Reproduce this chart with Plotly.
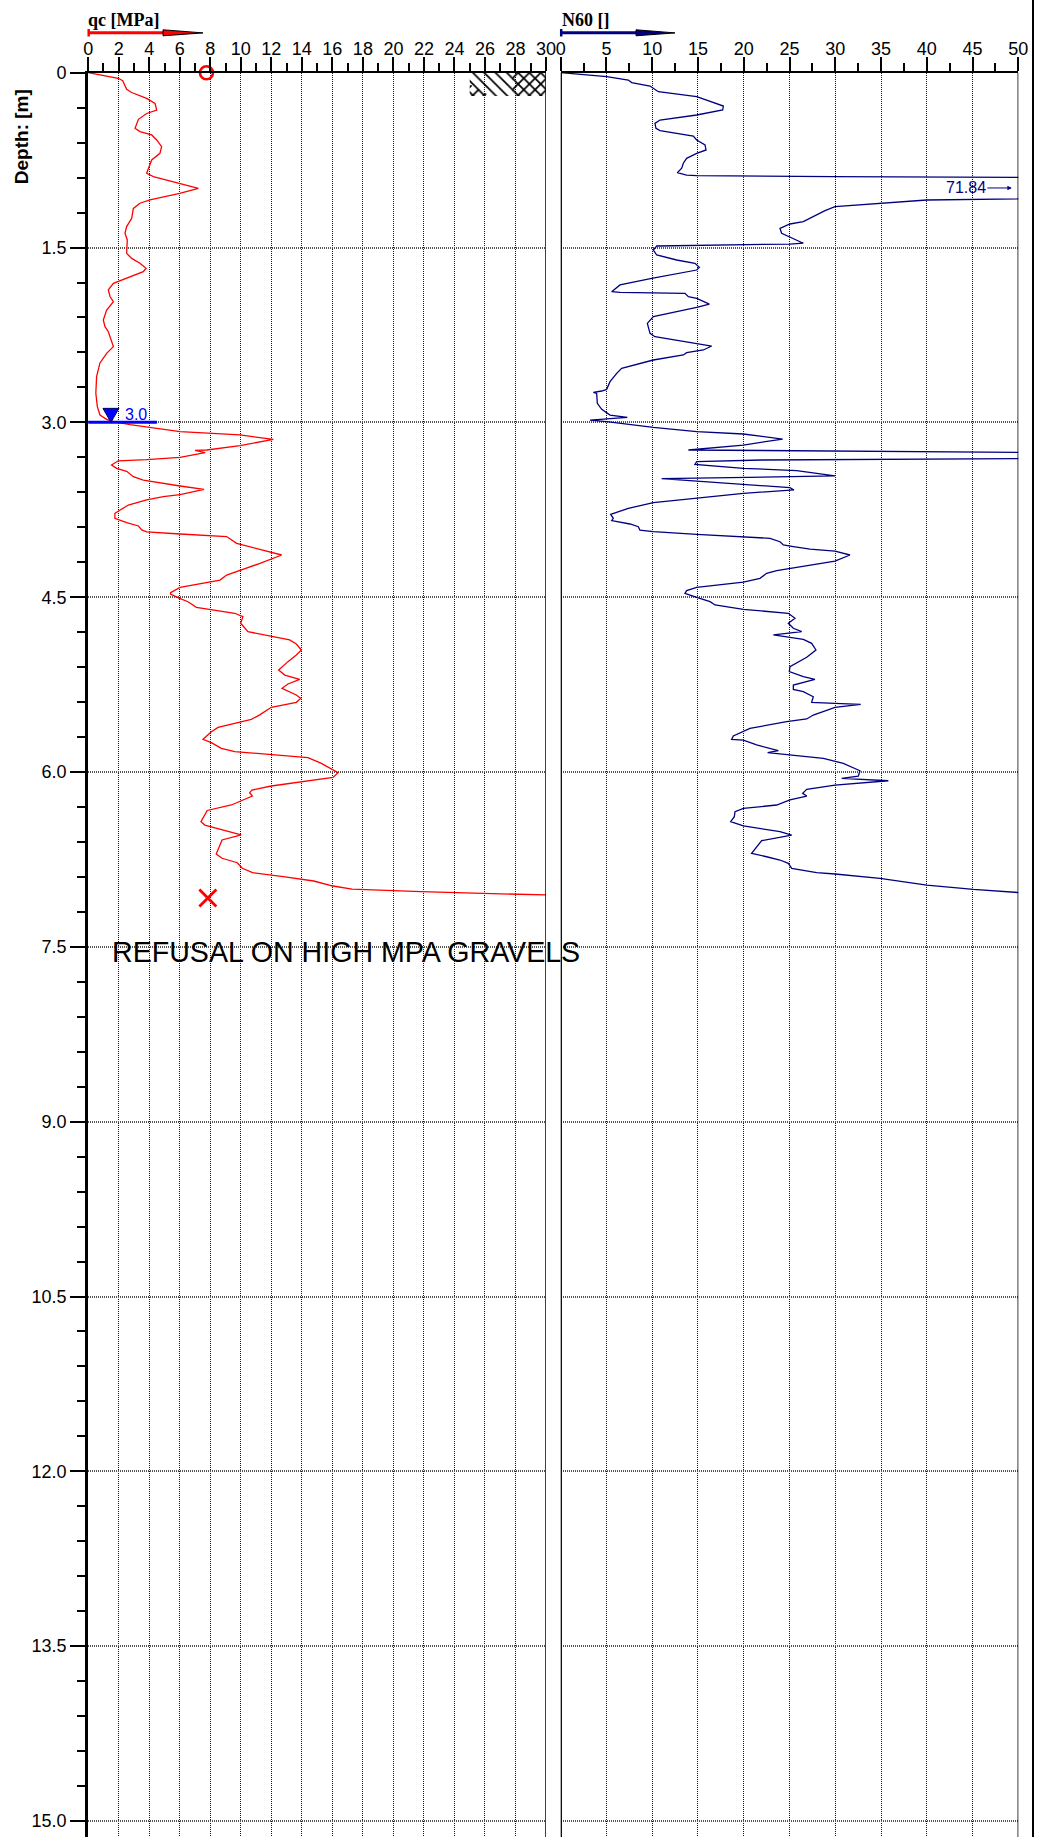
import plotly.graph_objects as go

W, H = 1045, 1837

# ---------------- data ----------------
qc_depth = [0.0, 0.048, 0.068, 0.143, 0.17, 0.22, 0.263, 0.32, 0.35, 0.40, 0.477, 0.505, 0.534, 0.577,
            0.635, 0.692, 0.749, 0.792, 0.863, 0.892, 0.95, 0.992, 1.035, 1.092, 1.12, 1.164, 1.25,
            1.32, 1.378, 1.435, 1.55, 1.593, 1.635, 1.678, 1.707, 1.764, 1.807, 1.864, 1.92, 1.965,
            2.036, 2.122, 2.179, 2.222, 2.35, 2.408, 2.49, 2.608, 2.75, 2.865, 2.937, 2.974, 2.994,
            3.02, 3.08, 3.108, 3.146, 3.2, 3.237, 3.24, 3.26, 3.3, 3.32, 3.33, 3.366, 3.395, 3.42,
            3.466, 3.495, 3.546, 3.575, 3.62, 3.637, 3.665, 3.709, 3.78, 3.823, 3.86, 3.889, 3.923,
            3.94, 3.958, 3.98, 4.038, 4.067, 4.138, 4.21, 4.267, 4.31, 4.353, 4.416, 4.461, 4.473,
            4.51, 4.539, 4.587, 4.605, 4.638, 4.667, 4.724, 4.796, 4.833, 4.867, 4.902, 4.953, 4.996,
            5.053, 5.125, 5.168, 5.205, 5.245, 5.282, 5.305, 5.339, 5.368, 5.402, 5.445, 5.51, 5.548,
            5.568, 5.617, 5.654, 5.696, 5.719, 5.748, 5.797, 5.825, 5.848, 5.877, 5.926, 5.983, 6.006,
            6.046, 6.083, 6.12, 6.155, 6.177, 6.206, 6.246, 6.283, 6.33, 6.426, 6.455, 6.54, 6.583,
            6.703, 6.74, 6.778, 6.826, 6.864, 6.898, 6.935, 6.978, 7.004, 7.027, 7.055, 7.07]
qc_value = [0.0, 1.97, 2.26, 2.52, 2.85, 3.83, 4.38, 4.49, 3.83, 3.29, 3.07, 3.39, 4.16, 4.49,
            4.81, 4.70, 4.16, 4.05, 3.83, 4.27, 6.0, 7.22, 6.0, 4.05, 3.39, 2.96, 2.85,
            2.52, 2.41, 2.56, 2.52, 2.85, 3.39, 3.79, 3.61, 2.52, 1.65, 1.32, 1.43, 1.65,
            1.21, 0.99, 1.10, 1.32, 1.65, 1.21, 0.77, 0.55, 0.50, 0.60, 0.77, 1.21, 1.65,
            2.74, 6.02, 9.95, 12.13, 9.95, 7.77, 7.0, 7.66, 6.02, 3.83, 1.97, 1.53, 1.86, 2.52,
            2.96, 3.61, 6.02, 7.59, 6.02, 4.92, 3.83, 2.63, 1.75, 1.75, 2.52, 3.29, 3.51,
            3.83, 6.02, 9.07, 9.73, 10.6, 12.68, 11.26, 9.95, 9.07, 8.64, 6.02, 5.4, 5.4,
            5.99, 6.54, 7.09, 7.96, 9.6, 10.14, 9.99, 10.47, 12.0, 13.2, 13.64, 13.97, 13.64,
            13.09, 12.48, 12.88, 13.86, 13.09, 12.7, 13.09, 13.64, 13.92, 13.64, 12.0, 11.24, 10.69,
            10.04, 8.51, 8.07, 7.74, 7.52, 8.07, 8.72, 9.6, 12.0, 14.4, 15.28, 16.04, 16.37,
            16.04, 13.97, 12.0, 10.73, 10.58, 10.76, 10.03, 9.38, 7.8, 7.39, 7.64, 10.02, 8.77,
            8.39, 8.77, 9.77, 10.1, 10.77, 12.78, 14.78, 16.04, 17.29, 21.8, 30.05, 30.1]

n60_depth = [0.0, 0.014, 0.034, 0.063, 0.085, 0.114, 0.134, 0.163, 0.206, 0.286, 0.32, 0.363, 0.406,
             0.435, 0.477, 0.497, 0.543, 0.577, 0.62, 0.663, 0.692, 0.735, 0.777, 0.82, 0.858, 0.878,
             0.883, 0.892, 0.906, 1.06, 1.092, 1.12, 1.149, 1.183, 1.278, 1.298, 1.335, 1.378, 1.463,
             1.47, 1.478, 1.487, 1.521, 1.564, 1.607, 1.635, 1.67, 1.693, 1.764, 1.821, 1.879, 1.884,
             1.893, 1.922, 1.936, 1.985, 2.013, 2.093, 2.151, 2.236, 2.265, 2.322, 2.345, 2.379, 2.402,
             2.422, 2.465, 2.537, 2.58, 2.651, 2.717, 2.731, 2.742, 2.751, 2.837, 2.888, 2.937, 2.957,
             2.98, 2.994, 3.043, 3.08, 3.1, 3.143, 3.195, 3.237, 3.26, 3.308, 3.317, 3.323, 3.337,
             3.36, 3.394, 3.414, 3.46, 3.483, 3.56, 3.58, 3.609, 3.646, 3.689, 3.738, 3.79, 3.823,
             3.843, 3.872, 3.895, 3.924, 3.938, 3.961, 3.981, 3.995, 4.024, 4.052, 4.066, 4.087, 4.104,
             4.138, 4.19, 4.224, 4.253, 4.272, 4.295, 4.338, 4.37, 4.416, 4.444, 4.467, 4.502, 4.538,
             4.567, 4.605, 4.638, 4.681, 4.724, 4.767, 4.796, 4.824, 4.845, 4.862, 4.896, 4.953, 5.016,
             5.096, 5.139, 5.182, 5.205, 5.254, 5.291, 5.311, 5.354, 5.403, 5.411, 5.42, 5.446, 5.511,
             5.545, 5.568, 5.626, 5.654, 5.691, 5.72, 5.726, 5.768, 5.817, 5.834, 5.854, 5.883, 5.926,
             5.989, 6.035, 6.055, 6.075, 6.112, 6.149, 6.183, 6.206, 6.24, 6.283, 6.312, 6.341, 6.383,
             6.426, 6.463, 6.512, 6.541, 6.589, 6.641, 6.698, 6.727, 6.755, 6.784, 6.827, 6.864, 6.875,
             6.912, 6.97, 7.007, 7.035, 7.07]
n60_value = [0.0, 2.47, 5.02, 7.39, 7.75, 9.76, 10.12, 10.67, 14.86, 17.77, 17.7, 14.86, 10.85,
             10.3, 10.41, 10.85, 14.49, 14.86, 15.77, 15.88, 14.86, 13.76, 13.4, 13.22, 12.74, 13.76,
             14.86, 29.79, 71.84, 71.84, 40.0, 34.9, 29.97, 28.88, 26.51, 25.05, 23.96, 24.14, 26.51,
             25.05, 14.86, 10.49, 10.12, 10.49, 12.67, 14.67, 15.15, 14.86, 9.94, 6.48, 5.57, 6.48,
             13.58, 13.95, 14.86, 16.24, 14.86, 10.12, 9.47, 9.76, 10.3, 14.86, 16.5, 15.59, 13.76,
             13.4, 10.12, 6.66, 6.12, 5.39, 5.02, 4.48, 3.57, 3.93, 4.0, 4.48, 5.39, 7.28,
             3.2, 5.02, 10.12, 14.86, 19.96, 24.25, 19.96, 13.95, 55.0, 55.0, 29.79, 21.96, 14.86,
             14.67, 19.96, 25.78, 29.97, 11.03, 25.05, 25.49, 19.96, 15.22, 10.12, 7.39, 5.46, 5.75,
             5.57, 7.57, 8.48, 8.66, 10.12, 14.86, 19.96, 22.87, 23.96, 24.33, 25.42, 27.24, 29.97,
             31.61, 29.97, 27.24, 25.05, 23.6, 22.5, 21.78, 19.96, 14.86, 13.76, 13.58, 14.86, 16.32,
             16.86, 19.96, 24.87, 25.6, 24.87, 25.42, 26.33, 23.24, 25.05, 26.51, 27.42, 27.89, 26.88,
             25.05, 24.98, 26.51, 27.78, 25.42, 25.42, 26.51, 27.6, 27.42, 29.97, 32.78, 29.97, 27.6,
             26.88, 24.69, 20.68, 19.96, 18.86, 18.68, 19.96, 21.41, 23.78, 22.61, 25.05, 28.7, 30.88,
             32.7, 32.52, 30.7, 35.8, 29.97, 26.88, 26.44, 26.88, 25.05, 23.6, 19.96, 19.05, 18.97,
             18.57, 19.96, 23.96, 25.24, 21.96, 21.41, 20.86, 22.5, 23.96, 24.87, 25.24, 27.97, 29.97,
             34.89, 40.0, 45.09, 50.2, 50.4]

qc_ticks = list(range(0, 31, 2))
n60_ticks = list(range(0, 51, 5))
depth_ticks = [0, 1.5, 3.0, 4.5, 6.0, 7.5, 9.0, 10.5, 12.0, 13.5, 15.0]
depth_tick_labels = ["0", "1.5", "3.0", "4.5", "6.0", "7.5", "9.0", "10.5", "12.0", "13.5", "15.0"]

water_table_depth = 3.0
water_table_qc = [0.0, 4.5]
water_symbol_qc = 1.49
water_label = "3.0"
water_label_qc = 2.3

start_qc = [7.75]
start_depth = [0.0]
refusal_qc = [7.84]
refusal_depth = [7.08]
refusal_note = "REFUSAL ON HIGH MPA GRAVELS"
refusal_note_qc = 1.45
refusal_note_depth = 7.54

n60_clip_label = "71.84"
n60_clip_label_depth = 0.989
n60_clip_arrow_tip = 49.3

fill_qc = [25.0, 30.0, 30.0, 25.0, 25.0]
fill_depth = [0.0, 0.0, 0.2, 0.2, 0.0]
fill2_qc = [27.8, 30.0, 30.0, 27.8, 27.8]
fill2_depth = [0.0, 0.0, 0.2, 0.2, 0.0]
fill3_qc = [25.0, 26.35, 25.0, 25.0]
fill3_depth = [0.1, 0.2, 0.2, 0.1]

# ---------------- geometry (pixels) ----------------
PLOT_TOP = 72.7
DEPTH15_PX = 1821.0
px_per_m = (DEPTH15_PX - PLOT_TOP) / 15.0
depth_bottom = (H - PLOT_TOP) / px_per_m
L1, R1 = 88.2, 546.0
L2, R2 = 560.7, 1018.3


def fx(px):
    return px / W


def fy(py):
    return 1 - py / H


SANS = "Liberation Sans, Arial, sans-serif"
SERIF = "Liberation Serif, Times New Roman, serif"
NAVY = "#000080"

fig = go.Figure()

# hatched ground symbol
for qx, dy, shp in [(fill_qc, fill_depth, "\\"), (fill2_qc, fill2_depth, "/"), (fill3_qc, fill3_depth, "/")]:
    fig.add_trace(go.Scatter(x=qx, y=dy, xaxis="x", yaxis="y", mode="lines", fill="toself",
                             line=dict(width=0, color="rgba(0,0,0,0)"), fillcolor="rgba(0,0,0,0)",
                             fillpattern=dict(shape=shp, size=8, solidity=0.22, fgcolor="black"),
                             hoverinfo="skip", showlegend=False))

fig.add_trace(go.Scatter(x=qc_value, y=qc_depth, xaxis="x", yaxis="y", mode="lines",
                         line=dict(color="#FF0000", width=1.3), showlegend=False))
fig.add_trace(go.Scatter(x=n60_value, y=n60_depth, xaxis="x2", yaxis="y", mode="lines",
                         line=dict(color=NAVY, width=1.3), showlegend=False))

fig.add_trace(go.Scatter(x=start_qc, y=start_depth, xaxis="x", yaxis="y", mode="markers",
                         marker=dict(symbol="circle-open", size=13, color="red", line=dict(width=2.6, color="red")),
                         cliponaxis=False, showlegend=False))
fig.add_trace(go.Scatter(x=refusal_qc, y=refusal_depth, xaxis="x", yaxis="y", mode="markers",
                         marker=dict(symbol="x-thin-open", size=17, color="red", line=dict(width=2.8, color="red")),
                         showlegend=False))

xgrid_kw = dict(showgrid=True, gridcolor="#111111", gridwidth=1, griddash="1px,1px")
ygrid_kw = dict(showgrid=True, gridcolor="#555555", gridwidth=1.6, griddash="1px,1px")
tickfont = dict(family=SANS, size=18, color="black")

fig.update_layout(
    width=W, height=H, autosize=False,
    margin=dict(l=0, r=0, t=0, b=0),
    paper_bgcolor="white", plot_bgcolor="white",
    template="none", showlegend=False,
    font=dict(family=SANS, color="black"),
    xaxis=dict(domain=[fx(L1), fx(R1)], range=[0, 30], side="top", anchor="y",
               tickmode="array", tickvals=qc_ticks, ticks="outside", ticklen=14, tickwidth=1.5,
               tickcolor="black", showline=True, linecolor="black", linewidth=2, zeroline=False,
               tickfont=tickfont, ticklabelstandoff=-5,
               minor=dict(ticks="outside", tickmode="linear", tick0=0, dtick=1, ticklen=8,
                          tickwidth=1.5, tickcolor="black", showgrid=False),
               **xgrid_kw),
    xaxis2=dict(domain=[fx(L2), fx(R2)], range=[0, 50], side="top", anchor="y",
                tickmode="array", tickvals=n60_ticks, ticks="outside", ticklen=14, tickwidth=1.5,
                tickcolor="black", showline=True, linecolor="black", linewidth=2, zeroline=False,
                tickfont=tickfont, ticklabelstandoff=-5,
                minor=dict(ticks="outside", tickmode="linear", tick0=0, dtick=2.5, ticklen=8,
                           tickwidth=1.5, tickcolor="black", showgrid=False),
                **xgrid_kw),
    yaxis=dict(domain=[0, fy(PLOT_TOP)], range=[depth_bottom, 0], anchor="x",
               tickmode="array", tickvals=depth_ticks, ticktext=depth_tick_labels,
               ticks="outside", ticklen=15, tickwidth=2, tickcolor="black",
               showline=True, linecolor="black", linewidth=3, zeroline=False,
               tickfont=tickfont,
               minor=dict(ticks="outside", tickmode="linear", tick0=0, dtick=0.3, ticklen=8,
                          tickwidth=2, tickcolor="black", showgrid=False),
               **ygrid_kw),
)

shapes = []
# panel borders
shapes.append(dict(type="line", xref="x", yref="paper", x0=30, x1=30, y0=0, y1=fy(PLOT_TOP),
                   line=dict(color="black", width=1.5)))
shapes.append(dict(type="line", xref="x2", yref="paper", x0=0, x1=0, y0=0, y1=fy(PLOT_TOP),
                   line=dict(color="black", width=2.5)))
shapes.append(dict(type="line", xref="x2", yref="paper", x0=50, x1=50, y0=0, y1=fy(PLOT_TOP),
                   line=dict(color="black", width=1.5)))
shapes.append(dict(type="line", xref="paper", yref="paper", x0=fx(1033), x1=fx(1033), y0=0, y1=1,
                   line=dict(color="black", width=2)))


# header arrows
def header_arrow(x_start, x_mid, x_end, color):
    yy = fy(32.7)
    return [
        dict(type="line", xref="paper", yref="paper", x0=fx(x_start), x1=fx(x_mid), y0=yy, y1=yy,
             line=dict(color=color, width=3)),
        dict(type="line", xref="paper", yref="paper", x0=fx(x_start + 0.5), x1=fx(x_start + 0.5),
             y0=fy(29), y1=fy(36.5), line=dict(color=color, width=2.5)),
        dict(type="path", xref="paper", yref="paper",
             path=f"M {fx(x_mid)},{fy(29.8)} L {fx(x_end)},{fy(32.9)} L {fx(x_mid)},{fy(35.8)} Z",
             fillcolor=color, line=dict(color="black", width=1)),
    ]


shapes += header_arrow(88.2, 163, 203, "#FF0000")
shapes += header_arrow(560.7, 636, 675, NAVY)

# water table
shapes.append(dict(type="line", xref="x", yref="y", x0=water_table_qc[0], x1=water_table_qc[1],
                   y0=water_table_depth, y1=water_table_depth, line=dict(color="#0000FF", width=3)))
shapes.append(dict(type="path", xref="x", yref="y", xsizemode="pixel", ysizemode="pixel",
                   xanchor=water_symbol_qc, yanchor=water_table_depth,
                   path="M -8,14 L 8,14 L 0,0 Z", fillcolor="#0000FF",
                   line=dict(color="#000060", width=1)))

annotations = [
    dict(text="<b>qc [MPa]</b>", xref="paper", yref="paper", x=fx(86), y=fy(20),
         xanchor="left", yanchor="middle", showarrow=False,
         font=dict(family=SERIF, size=18, color="black")),
    dict(text="<b>N60 []</b>", xref="paper", yref="paper", x=fx(560), y=fy(20),
         xanchor="left", yanchor="middle", showarrow=False,
         font=dict(family=SERIF, size=18, color="black")),
    dict(text="<b>Depth: [m]</b>", xref="paper", yref="paper", x=fx(21.7), y=fy(136.5),
         xanchor="center", yanchor="middle", showarrow=False, textangle=-90,
         font=dict(family=SANS, size=19, color="black")),
    dict(text=water_label, xref="x", yref="y", x=water_label_qc, y=water_table_depth,
         xanchor="left", yanchor="middle", yshift=8, showarrow=False,
         font=dict(family=SANS, size=16, color="#0000FF")),
    dict(text=n60_clip_label, xref="x2", yref="y", x=n60_clip_arrow_tip, y=n60_clip_label_depth,
         ax=-46, ay=0, axref="pixel", ayref="pixel", showarrow=True, arrowhead=2, arrowsize=0.9,
         arrowwidth=1, arrowcolor=NAVY, font=dict(family=SANS, size=16, color=NAVY)),
    dict(text=refusal_note, xref="x", yref="y", x=refusal_note_qc, y=refusal_note_depth,
         xanchor="left", yanchor="middle", showarrow=False,
         font=dict(family=SANS, size=28.6, color="black")),
]

fig.update_layout(shapes=shapes, annotations=annotations)

fig.write_html("out.html", config={"displayModeBar": False},
               post_script="document.body.style.margin='0px';document.body.style.padding='0px';")
